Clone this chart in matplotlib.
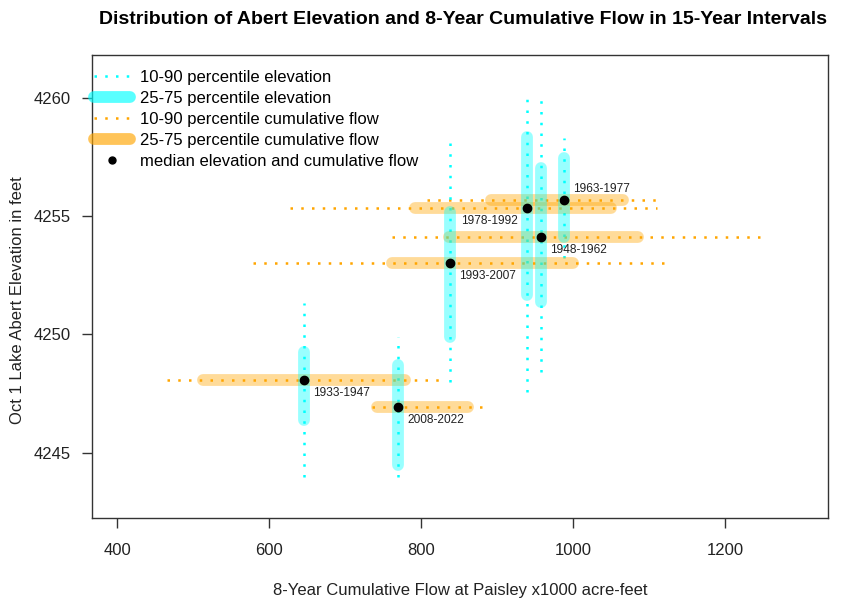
import matplotlib
matplotlib.use("Agg")
import matplotlib.pyplot as plt
from matplotlib.lines import Line2D

plt.rcParams["font.family"] = ["Liberation Sans", "DejaVu Sans"]

# 15-year intervals and their summary statistics
periods = ["1933-1947", "1948-1962", "1963-1977", "1978-1992", "1993-2007", "2008-2022"]
flow_med = [646, 958, 988, 939.5, 838, 770]
elev_med = [4248.09, 4254.13, 4255.69, 4255.35, 4253.03, 4246.95]
flow_p25 = [513, 837, 892, 792, 762, 742]
flow_p75 = [779, 1085, 1066, 1049, 999, 862]
flow_p10 = [466, 762, 808, 628, 579, 735]
flow_p90 = [829, 1246, 1114, 1110, 1125, 888]
elev_p25 = [4246.4, 4251.38, 4254.13, 4251.68, 4249.9, 4244.5]
elev_p75 = [4249.27, 4257.04, 4257.47, 4258.35, 4255.18, 4248.72]
elev_p10 = [4243.99, 4248.42, 4253.24, 4247.58, 4248.0, 4244.0]
elev_p90 = [4251.34, 4260.08, 4258.31, 4260.0, 4258.23, 4249.9]

# label placement (offset points, horizontal alignment)
label_pos = {
    "1978-1992": ((-6.5, -9.4), "right"),
    "1963-1977": ((6.5, 7.5), "left"),
}

CYAN = "#00FFFF"
ORANGE = "#FFA500"
dots = (0, (1, 3.3))
thick = 8.5

fig = plt.figure(figsize=(8.44, 6.03), dpi=100)
ax = fig.add_axes([92 / 844, 1 - 518 / 603, (828 - 92) / 844, (518 - 55) / 603])

for i in range(len(periods)):
    ax.plot([flow_med[i], flow_med[i]], [elev_p10[i], elev_p90[i]], color=CYAN,
            lw=1.8, ls=dots, dash_capstyle="butt", zorder=1)
    ax.plot([flow_p10[i], flow_p90[i]], [elev_med[i], elev_med[i]], color=ORANGE,
            lw=1.8, ls=dots, dash_capstyle="butt", zorder=1)
for i in range(len(periods)):
    ax.plot([flow_p25[i], flow_p75[i]], [elev_med[i], elev_med[i]], color=ORANGE,
            lw=thick, alpha=0.4, solid_capstyle="round", zorder=2)
for i in range(len(periods)):
    ax.plot([flow_med[i], flow_med[i]], [elev_p25[i], elev_p75[i]], color=CYAN,
            lw=thick, alpha=0.4, solid_capstyle="round", zorder=3)
ax.plot(flow_med, elev_med, "o", color="black", ms=6, zorder=4)

for i, p in enumerate(periods):
    off, ha = label_pos.get(p, ((6.5, -9.4), "left"))
    ax.annotate(p, (flow_med[i], elev_med[i]), xytext=off, textcoords="offset points",
                ha=ha, va="center", fontsize=8.6, color="#222222", zorder=5)

ax.set_xlim(367, 1335)
ax.set_ylim(4242.25, 4261.8)
ax.set_xticks([400, 600, 800, 1000, 1200])
ax.set_yticks([4245, 4250, 4255, 4260])
ax.tick_params(direction="out", length=7, width=1, labelsize=12, color="#333333",
               labelcolor="#222222")
ax.tick_params(axis="x", pad=11)
ax.tick_params(axis="y", pad=8)
for s in ax.spines.values():
    s.set_color("#333333")
    s.set_linewidth(1)

fig.text(18 / 844, 1 - 300 / 603, "Oct 1 Lake Abert Elevation in feet", rotation=90,
         ha="center", va="center", fontsize=12, color="#222222")
fig.text(460 / 844, 1 - 590 / 603, "8-Year Cumulative Flow at Paisley x1000 acre-feet",
         ha="center", va="center", fontsize=12, color="#222222")
fig.text(463 / 844, 1 - 19 / 603,
         "Distribution of Abert Elevation and 8-Year Cumulative Flow in 15-Year Intervals",
         ha="center", va="center", fontsize=14, fontweight="bold")

handles = [
    Line2D([], [], color=CYAN, lw=1.8, ls=dots),
    Line2D([], [], color=CYAN, lw=thick, alpha=0.65, solid_capstyle="round"),
    Line2D([], [], color=ORANGE, lw=1.8, ls=dots),
    Line2D([], [], color=ORANGE, lw=thick, alpha=0.65, solid_capstyle="round"),
    Line2D([], [], color="black", marker="o", ls="none", ms=5),
]
labels = ["10-90 percentile elevation", "25-75 percentile elevation",
          "10-90 percentile cumulative flow", "25-75 percentile cumulative flow",
          "median elevation and cumulative flow"]
ax.legend(handles, labels, loc="upper left", bbox_to_anchor=(0.0, 0.971), frameon=False,
          fontsize=12, handlelength=2.15, handletextpad=0.66, labelspacing=0.36,
          borderaxespad=0, borderpad=0.1)

fig.savefig("out.png", dpi=100)
